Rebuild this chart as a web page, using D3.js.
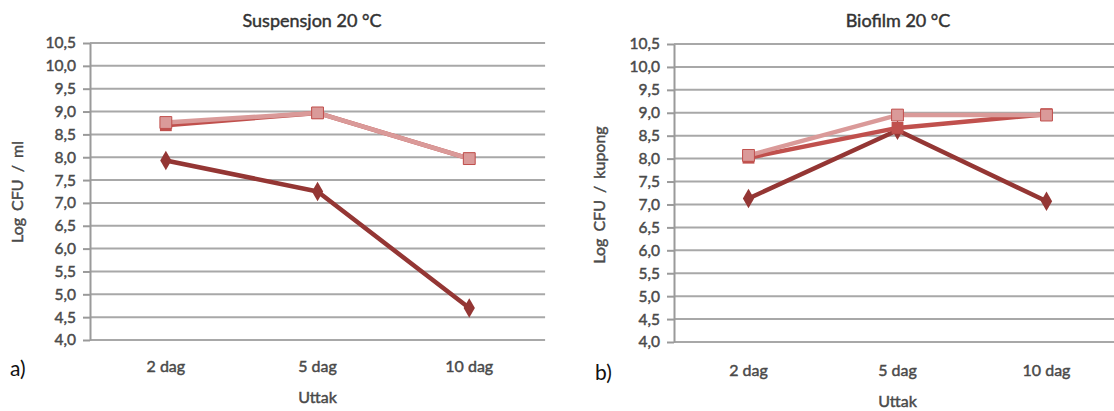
<!DOCTYPE html>
<html>
<head>
<meta charset="utf-8">
<script src="https://cdn.jsdelivr.net/npm/d3@7/dist/d3.min.js"></script>
<style>
  html, body { margin: 0; padding: 0; background: #ffffff; }
  svg { display: block; }
  text { font-family: Lato, "Open Sans", sans-serif; }
</style>
</head>
<body>
<svg id="chart" width="1114" height="411"></svg>
<script>
// Sampling points (x categories)
const categories = ["2 dag", "5 dag", "10 dag"];

// Y tick values shared by both panels
const yTicks = [4.0, 4.5, 5.0, 5.5, 6.0, 6.5, 7.0, 7.5, 8.0, 8.5, 9.0, 9.5, 10.0, 10.5];

// Panel a) Suspensjon 20 °C  (log CFU / ml)
const suspSeries1 = [7.93, 7.25, 4.70];
const suspSeries2 = [8.70, 8.97, 7.97];
const suspSeries3 = [8.76, 8.97, 7.97];

// Panel b) Biofilm 20 °C  (log CFU / kupong)
const bioSeries1 = [7.13, 8.62, 7.07];
const bioSeries2 = [8.02, 8.67, 8.97];
const bioSeries3 = [8.07, 8.95, 8.95];

const seriesColors = ["#943634", "#C0504D", "#DA9A99"];
const seriesMarkers = ["diamond", "square", "square"];

const svg = d3.select("#chart");
const fmt = v => d3.format(".1f")(v).replace(".", ",");
const labelColor = "#4A4A4A";

// regular weight text, thickened slightly with a thin outline of the same colour
function heavy(sel, color) {
  return sel.attr("fill", color).attr("stroke", color).attr("stroke-width", 0.45);
}

function drawPanel(opts) {
  const g = svg.append("g");
  const x = d3.scaleBand().domain(categories).range([opts.x0, opts.x0 + opts.band * 3]);
  const y = d3.scaleLinear().domain([4.0, 10.5]).range([opts.yBottom, opts.yTop]);
  const cx = d => x(d) + x.bandwidth() / 2;

  // horizontal gridlines
  g.append("g").selectAll("line").data(yTicks).join("line")
    .attr("x1", opts.x0).attr("x2", Math.min(opts.x0 + opts.band * 3, 1114))
    .attr("y1", d => y(d)).attr("y2", d => y(d))
    .attr("stroke", "#A8A8A8").attr("stroke-width", 2);

  // y axis with comma decimals
  const yAxis = g.append("g").attr("transform", `translate(${opts.x0},0)`)
    .call(d3.axisLeft(y).tickValues(yTicks).tickFormat(fmt).tickSize(7).tickSizeOuter(0).tickPadding(7));
  yAxis.select(".domain").attr("stroke", "#9A9A9A").attr("stroke-width", 2);
  yAxis.selectAll(".tick line").attr("stroke", "#9A9A9A").attr("stroke-width", 2);
  heavy(yAxis.selectAll(".tick text"), labelColor).attr("font-size", 15.5)
    .attr("font-family", "Lato, sans-serif");

  // category labels
  heavy(g.append("g").selectAll("text").data(categories).join("text")
    .attr("x", d => cx(d)).attr("y", opts.catY)
    .attr("text-anchor", "middle").attr("dominant-baseline", "middle")
    .attr("font-size", 16), labelColor)
    .text(d => d);

  // title
  heavy(g.append("text").attr("x", opts.titleX).attr("y", 22)
    .attr("text-anchor", "middle").attr("dominant-baseline", "middle")
    .attr("font-size", 18), "#333333").text(opts.title);

  // axis titles
  heavy(g.append("text").attr("x", opts.x0 + opts.band * 1.5).attr("y", opts.catY + 31)
    .attr("text-anchor", "middle").attr("dominant-baseline", "middle")
    .attr("font-size", 16), labelColor).text("Uttak");
  heavy(g.append("text")
    .attr("transform", `translate(${opts.yLabelX},${opts.yLabelY}) rotate(-90)`)
    .attr("text-anchor", "middle").attr("dominant-baseline", "middle")
    .attr("font-size", 16).attr("word-spacing", 3), labelColor).text(opts.yLabel);

  // panel letter
  g.append("text").attr("x", opts.letterX).attr("y", opts.catY + 3)
    .attr("dominant-baseline", "middle")
    .attr("font-family", "'Liberation Serif', 'DejaVu Serif', serif")
    .attr("font-size", 21).attr("fill", "#111111").text(opts.letter);

  // series lines and markers
  const line = d3.line().x((d, i) => cx(categories[i])).y(d => y(d));
  const plot = g.append("g");
  opts.series.forEach((vals, si) => {
    const col = seriesColors[si];
    plot.append("path").datum(vals).attr("d", line)
      .attr("fill", "none").attr("stroke", col)
      .attr("stroke-width", 4.5).attr("stroke-linejoin", "round");
    const sym = seriesMarkers[si] === "diamond"
      ? d3.symbol().type(d3.symbolDiamond).size(110)
      : d3.symbol().type(d3.symbolSquare).size(140);
    plot.append("g").selectAll("path").data(vals).join("path")
      .attr("transform", (d, i) => `translate(${cx(categories[i])},${y(d)})`)
      .attr("d", sym).attr("fill", col)
      .attr("stroke", si === 2 ? "#C0504D" : col).attr("stroke-width", si === 2 ? 1 : 0);
  });
}

drawPanel({
  x0: 90, band: 151.7, yTop: 43, yBottom: 340, catY: 368,
  title: "Suspensjon 20 °C", titleX: 312,
  yLabel: "Log CFU / ml", yLabelX: 19, yLabelY: 192,
  letter: "a)", letterX: 10,
  series: [suspSeries1, suspSeries2, suspSeries3]
});

drawPanel({
  x0: 674, band: 149, yTop: 44, yBottom: 342, catY: 372,
  title: "Biofilm 20 °C", titleX: 898,
  yLabel: "Log CFU / kupong", yLabelX: 601, yLabelY: 195,
  letter: "b)", letterX: 595,
  series: [bioSeries1, bioSeries2, bioSeries3]
});
</script>
</body>
</html>
